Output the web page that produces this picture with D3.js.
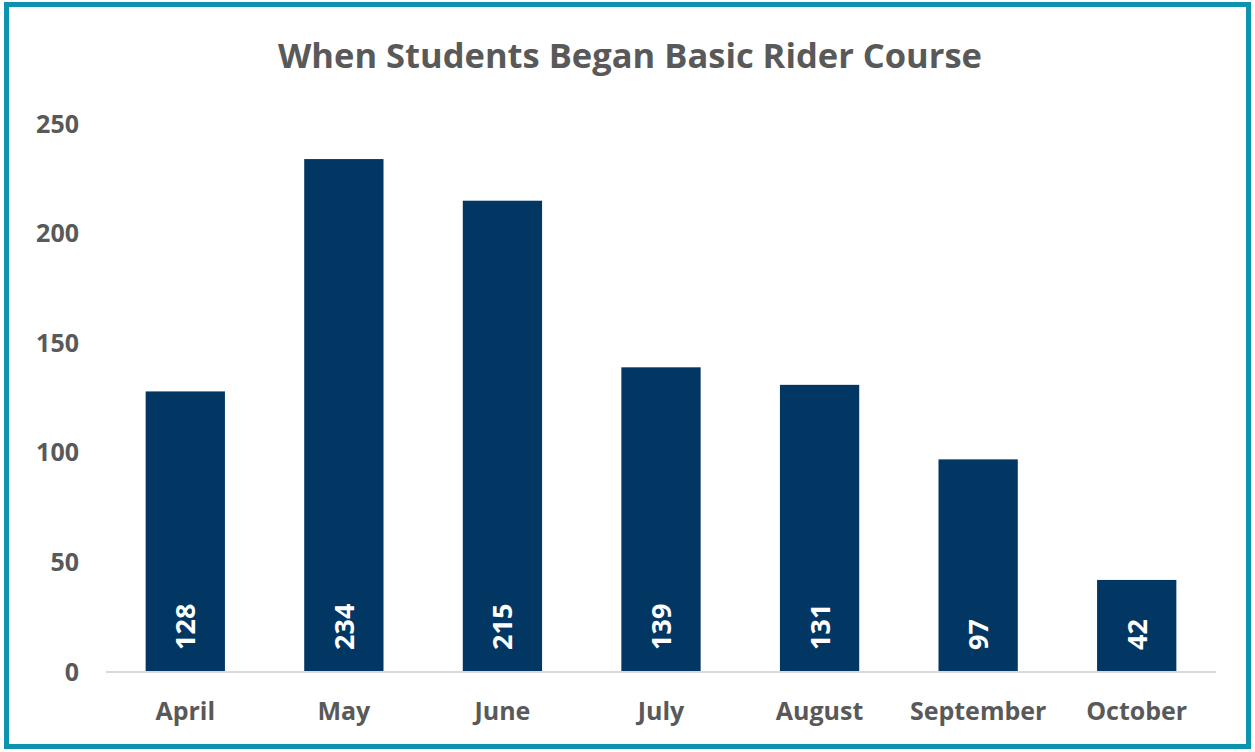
<!DOCTYPE html>
<meta charset="utf-8">
<head>
<style>
  body { margin: 0; background: #fff; }
  svg { display: block; }
  text { font-family: "Open Sans", "Noto Sans", sans-serif; font-weight: bold; }
  .tick text { fill: #595959; font-size: 25px; }
</style>
</head>
<body>
<script src="https://cdn.jsdelivr.net/npm/d3@7"></script>
<script>
var months = ["April", "May", "June", "July", "August", "September", "October"];
var students = [128, 234, 215, 139, 131, 97, 42];
var yTicks = [0, 50, 100, 150, 200, 250];

var width = 1255, height = 752;
var plotLeft = 106, plotRight = 1216, plotTop = 124, plotBottom = 672;

var svg = d3.select("body").append("svg")
    .attr("width", width)
    .attr("height", height);

// frame
svg.append("rect")
    .attr("x", 6.5).attr("y", 4.5)
    .attr("width", 1242).attr("height", 742)
    .attr("fill", "none")
    .attr("stroke", "#0c93ad")
    .attr("stroke-width", 5);

svg.append("text")
    .attr("x", 630).attr("y", 68)
    .attr("text-anchor", "middle")
    .attr("fill", "#595959")
    .style("font-size", "34.5px")
    .text("When Students Began Basic Rider Course");

var x = d3.scaleBand().domain(months).range([plotLeft, plotRight]).paddingInner(0.5).paddingOuter(0.25);
var y = d3.scaleLinear().domain([0, 250]).range([plotBottom, plotTop]);

var yAxis = svg.append("g")
    .attr("transform", "translate(" + (plotLeft - 27) + ",0)")
    .call(d3.axisLeft(y).tickValues(yTicks).tickSize(0).tickPadding(0));
yAxis.select(".domain").remove();

svg.selectAll("rect.bar")
    .data(students)
    .enter().append("rect")
    .attr("class", "bar")
    .attr("x", function (d, i) { return x(months[i]); })
    .attr("y", function (d) { return y(d); })
    .attr("width", x.bandwidth())
    .attr("height", function (d) { return y(0) - y(d); })
    .attr("fill", "#023663");

var xAxis = svg.append("g")
    .attr("transform", "translate(0," + plotBottom + ")")
    .call(d3.axisBottom(x).tickSize(0).tickPadding(30));
xAxis.select(".domain").attr("stroke", "#d9d9d9").attr("stroke-width", 2)
    .attr("d", "M" + plotLeft + ",0H" + plotRight);

svg.selectAll("text.value")
    .data(students)
    .enter().append("text")
    .attr("class", "value")
    .attr("transform", function (d, i) {
        return "translate(" + (x(months[i]) + x.bandwidth() / 2 + 10) + "," + (plotBottom - 22) + ") rotate(-90)";
    })
    .attr("fill", "#fff")
    .style("font-size", "27px")
    .text(function (d) { return d; });
</script>
</body>
